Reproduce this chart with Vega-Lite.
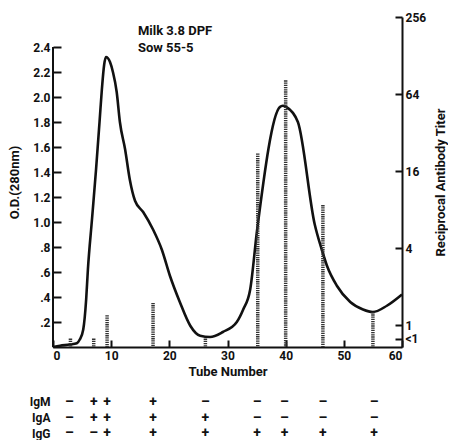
{
  "$schema": "https://vega.github.io/schema/vega-lite/v6.json",
  "padding": {"left": 8, "top": 11, "right": 0, "bottom": 0},
  "background": "white",
  "datasets": {
    "od": [
      {"tube": 0, "od": 0}, {"tube": 1.2, "od": 0.01}, {"tube": 2.9, "od": 0.02}, {"tube": 4.1, "od": 0.03},
      {"tube": 4.6, "od": 0.06}, {"tube": 5.2, "od": 0.14}, {"tube": 5.7, "od": 0.38}, {"tube": 6.0, "od": 0.62},
      {"tube": 6.7, "od": 1.02}, {"tube": 7.4, "od": 1.42}, {"tube": 8.0, "od": 1.8}, {"tube": 8.4, "od": 2.06},
      {"tube": 8.8, "od": 2.26}, {"tube": 9.1, "od": 2.32}, {"tube": 9.8, "od": 2.28}, {"tube": 10.3, "od": 2.2},
      {"tube": 10.95, "od": 2.04}, {"tube": 11.5, "od": 1.8}, {"tube": 12.4, "od": 1.58}, {"tube": 13.2, "od": 1.34},
      {"tube": 14.1, "od": 1.17}, {"tube": 15.5, "od": 1.08}, {"tube": 17.2, "od": 0.94}, {"tube": 18.7, "od": 0.78},
      {"tube": 20.1, "od": 0.57}, {"tube": 21.8, "od": 0.36}, {"tube": 23.6, "od": 0.17}, {"tube": 25.3, "od": 0.09},
      {"tube": 27.0, "od": 0.08}, {"tube": 29.2, "od": 0.12}, {"tube": 31.6, "od": 0.2}, {"tube": 32.7, "od": 0.3},
      {"tube": 33.9, "od": 0.46}, {"tube": 35.1, "od": 0.94}, {"tube": 39.0, "od": 1.92}, {"tube": 39.5, "od": 1.93},
      {"tube": 40.1, "od": 1.92}, {"tube": 42.1, "od": 1.8}, {"tube": 45.0, "od": 0.98}, {"tube": 46.2, "od": 0.78},
      {"tube": 47.1, "od": 0.65}, {"tube": 48.8, "od": 0.49}, {"tube": 51.1, "od": 0.36}, {"tube": 53.3, "od": 0.3},
      {"tube": 55.0, "od": 0.28}, {"tube": 57.4, "od": 0.33}, {"tube": 60.0, "od": 0.42}
    ],
    "titer": [
      {"tube": 3, "titer": 0.79}, {"tube": 7, "titer": 0.79}, {"tube": 9.3, "titer": 1.2},
      {"tube": 17.2, "titer": 1.5}, {"tube": 26.2, "titer": 0.79}, {"tube": 35.2, "titer": 22},
      {"tube": 40, "titer": 82}, {"tube": 46.4, "titer": 8.7}, {"tube": 55, "titer": 1.27}
    ],
    "table": [
      {"tube": 2.8, "ig": "IgM", "sign": "–"}, {"tube": 7.0, "ig": "IgM", "sign": "+"}, {"tube": 9.3, "ig": "IgM", "sign": "+"},
      {"tube": 17.2, "ig": "IgM", "sign": "+"}, {"tube": 26.2, "ig": "IgM", "sign": "–"}, {"tube": 35.1, "ig": "IgM", "sign": "–"},
      {"tube": 39.8, "ig": "IgM", "sign": "–"}, {"tube": 46.4, "ig": "IgM", "sign": "–"}, {"tube": 55.2, "ig": "IgM", "sign": "–"},
      {"tube": 2.8, "ig": "IgA", "sign": "–"}, {"tube": 7.0, "ig": "IgA", "sign": "+"}, {"tube": 9.3, "ig": "IgA", "sign": "+"},
      {"tube": 17.2, "ig": "IgA", "sign": "+"}, {"tube": 26.2, "ig": "IgA", "sign": "+"}, {"tube": 35.1, "ig": "IgA", "sign": "–"},
      {"tube": 39.8, "ig": "IgA", "sign": "–"}, {"tube": 46.4, "ig": "IgA", "sign": "–"}, {"tube": 55.2, "ig": "IgA", "sign": "–"},
      {"tube": 2.8, "ig": "IgG", "sign": "–"}, {"tube": 7.0, "ig": "IgG", "sign": "–"}, {"tube": 9.3, "ig": "IgG", "sign": "+"},
      {"tube": 17.2, "ig": "IgG", "sign": "+"}, {"tube": 26.2, "ig": "IgG", "sign": "+"}, {"tube": 35.1, "ig": "IgG", "sign": "+"},
      {"tube": 39.8, "ig": "IgG", "sign": "+"}, {"tube": 46.4, "ig": "IgG", "sign": "+"}, {"tube": 55.2, "ig": "IgG", "sign": "+"}
    ]
  },
  "vconcat": [
    {
      "width": 349,
      "height": 330,
      "layer": [
        {
          "data": {"name": "od"},
          "mark": {"type": "line", "interpolate": "monotone", "strokeWidth": 2.6, "color": "#111"},
          "encoding": {
            "x": {
              "field": "tube", "type": "quantitative",
              "scale": {"domain": [0, 60], "nice": false},
              "axis": {"values": [0, 10, 20, 30, 40, 50, 60], "tickSize": -7, "labelPadding": 10, "title": "Tube Number", "titlePadding": 4}
            },
            "y": {
              "field": "od", "type": "quantitative",
              "scale": {"domain": [0, 2.64], "nice": false},
              "axis": {
                "values": [0.2, 0.4, 0.6, 0.8, 1.0, 1.2, 1.4, 1.6, 1.8, 2.0, 2.2, 2.4],
                "labelExpr": "datum.value >= 1 ? format(datum.value, '.1f') : replace(format(datum.value, '.1f'), '0.', '.')",
                "labelOverlap": false,
                "domain": false, "tickSize": -8, "labelPadding": 11,
                "title": "O.D.(280nm)", "titlePadding": 11
              }
            }
          }
        },
        {
          "data": {"name": "titer"},
          "mark": {"type": "rule", "strokeWidth": 3.5, "strokeDash": [1.3, 0.9], "color": "#333"},
          "encoding": {
            "x": {"field": "tube", "type": "quantitative"},
            "y": {
              "field": "titer", "type": "quantitative",
              "scale": {"type": "log", "base": 2, "domain": [0.679, 256], "nice": false},
              "axis": {
                "orient": "right",
                "values": [0.79, 1, 4, 16, 64, 256],
                "labelExpr": "datum.value < 0.9 ? '<1' : format(datum.value, 'd')",
                "labelOverlap": false,
                "tickSize": -7, "labelPadding": 10,
                "title": "Reciprocal Antibody Titer", "titleAngle": 270, "titlePadding": 22
              }
            },
            "y2": {"datum": 0.679}
          }
        },
        {
          "data": {"values": [{}]},
          "mark": {"type": "rule", "strokeWidth": 2, "color": "#111"},
          "encoding": {
            "x": {"datum": 0},
            "y": {"datum": 0, "scale": {"domain": [0, 2.64], "nice": false}, "axis": null},
            "y2": {"datum": 2.4}
          }
        },
        {
          "data": {"values": [{}]},
          "mark": {"type": "text", "text": ["Milk 3.8 DPF", "Sow 55-5"], "align": "left", "baseline": "top", "lineHeight": 17, "font": "Roboto", "fontWeight": "bold", "fontSize": 13, "color": "#111"},
          "encoding": {
            "x": {"datum": 14.6},
            "y": {"datum": 2.58, "scale": {"domain": [0, 2.64], "nice": false}, "axis": null}
          }
        }
      ],
      "resolve": {"scale": {"y": "independent"}}
    },
    {
      "width": 349,
      "height": 47,
      "data": {"name": "table"},
      "mark": {"type": "text", "font": "Roboto", "fontWeight": "bold", "fontSize": 14, "color": "#111"},
      "encoding": {
        "x": {"field": "tube", "type": "quantitative", "scale": {"domain": [0, 60], "nice": false}, "axis": null},
        "y": {"field": "ig", "type": "nominal", "sort": ["IgM", "IgA", "IgG"], "axis": {"title": null, "domain": false, "ticks": false, "labelPadding": 3}},
        "text": {"field": "sign"}
      }
    }
  ],
  "spacing": 16,
  "resolve": {"scale": {"x": "independent", "y": "independent"}},
  "config": {
    "view": {"stroke": null},
    "axis": {
      "grid": false, "labelOverlap": false, "domainColor": "#111", "tickColor": "#111", "labelColor": "#111", "titleColor": "#111",
      "labelFont": "Roboto", "titleFont": "Roboto", "labelFontWeight": "bold", "titleFontWeight": "bold",
      "domainWidth": 2, "tickWidth": 2, "labelFontSize": 12, "titleFontSize": 13
    }
  }
}
